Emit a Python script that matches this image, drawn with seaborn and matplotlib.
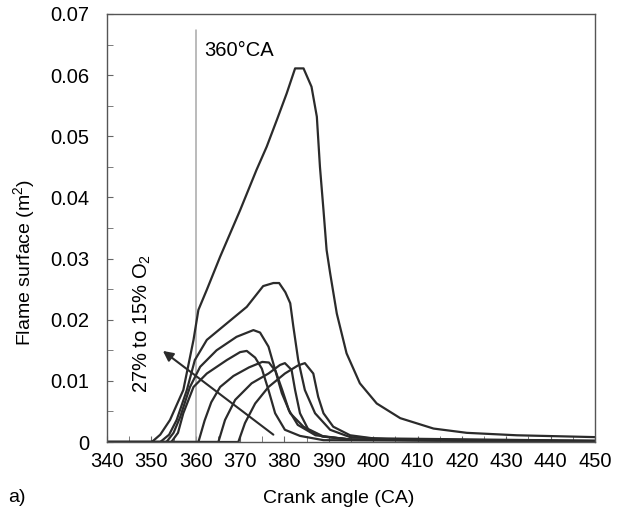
import numpy as np
import pandas as pd
import matplotlib
matplotlib.use("Agg")
import matplotlib.pyplot as plt
from matplotlib.ticker import MultipleLocator
import seaborn as sns

# crank angle (deg) / flame surface (m2), one curve per O2 level
ca_27 = [340.0, 350.1, 352.0, 354.2, 357.2, 359.5, 360.6, 362.5, 365.5, 370.0, 373.7, 376.0,
         378.3, 380.5, 382.4, 384.3, 386.1, 387.3, 388.0, 388.8, 389.5, 390.3, 391.8, 394.0,
         397.0, 400.8, 406.1, 413.6, 421.1, 432.4, 450.0]
fs_27 = [0.0, 0.0, 0.0012, 0.0036, 0.0085, 0.0167, 0.0216, 0.0249, 0.0303, 0.0379, 0.0445, 0.0483,
         0.0527, 0.0570, 0.0611, 0.0611, 0.0581, 0.0532, 0.0450, 0.0379, 0.0314, 0.0276, 0.0210, 0.0145,
         0.0096, 0.0063, 0.0039, 0.0022, 0.0015, 0.0011, 0.0008]

ca_b = [340.0, 352.0, 354.0, 355.7, 358.0, 359.8, 362.5, 367.0, 371.5, 375.2, 377.5, 378.8,
        380.2, 381.3, 382.0, 383.1, 384.6, 386.9, 390.3, 394.8, 405.0, 450.0]
fs_b = [0.0, 0.0, 0.0012, 0.0036, 0.0085, 0.0134, 0.0167, 0.0194, 0.0221, 0.0255, 0.0260, 0.0260,
        0.0245, 0.0227, 0.0189, 0.0134, 0.0085, 0.0047, 0.0020, 0.0008, 0.0004, 0.0002]

ca_c = [340.0, 353.4, 355.0, 356.5, 358.7, 361.0, 364.7, 369.2, 373.0, 374.5, 376.4, 377.9,
        379.4, 381.3, 384.3, 388.8, 395.0, 450.0]
fs_c = [0.0, 0.0, 0.0015, 0.0041, 0.0090, 0.0123, 0.0150, 0.0172, 0.0183, 0.0179, 0.0156, 0.0118,
        0.0080, 0.0047, 0.0025, 0.0009, 0.0004, 0.0001]

ca_d = [340.0, 354.5, 356.0, 357.2, 359.5, 362.5, 367.0, 370.0, 371.5, 373.4, 374.9, 376.4,
        377.9, 380.1, 383.5, 388.8, 450.0]
fs_d = [0.0, 0.0, 0.0015, 0.0047, 0.0090, 0.0112, 0.0134, 0.0147, 0.0149, 0.0138, 0.0120, 0.0085,
        0.0047, 0.0020, 0.0010, 0.0003, 0.0001]

ca_e = [340.0, 360.6, 362.0, 363.5, 365.5, 368.5, 372.0, 375.0, 376.5, 378.0, 379.5, 381.0,
        383.0, 387.0, 395.0, 450.0]
fs_e = [0.0, 0.0, 0.0035, 0.0065, 0.0090, 0.0108, 0.0122, 0.0131, 0.0130, 0.0116, 0.0085, 0.0052,
        0.0028, 0.0011, 0.0004, 0.0001]

ca_f = [340.0, 365.1, 366.6, 368.9, 372.6, 376.4, 379.0, 380.1, 381.6, 382.4, 383.5, 385.4,
        388.5, 395.0, 450.0]
fs_f = [0.0, 0.0, 0.0036, 0.0069, 0.0096, 0.0112, 0.0126, 0.0129, 0.0118, 0.0085, 0.0047, 0.0020,
        0.0009, 0.0004, 0.0001]

ca_15 = [340.0, 369.6, 371.1, 373.4, 376.4, 380.1, 383.0, 384.6, 386.5, 387.6, 388.8, 391.0,
         394.8, 400.0, 450.0]
fs_15 = [0.0, 0.0, 0.0031, 0.0063, 0.0090, 0.0112, 0.0125, 0.0129, 0.0112, 0.0074, 0.0047, 0.0025,
         0.0011, 0.0006, 0.0002]

curves = {"27%": (ca_27, fs_27), "b": (ca_b, fs_b), "c": (ca_c, fs_c), "d": (ca_d, fs_d),
          "e": (ca_e, fs_e), "f": (ca_f, fs_f), "15%": (ca_15, fs_15)}

frames = [pd.DataFrame({"ca": ca, "fs": fs, "case": name}) for name, (ca, fs) in curves.items()]
df = pd.concat(frames, ignore_index=True)

sns.set_style("ticks")
plt.rcParams["font.family"] = ["Liberation Sans", "DejaVu Sans"]
plt.rcParams["mathtext.fontset"] = "custom"
plt.rcParams["mathtext.rm"] = "Liberation Sans"
plt.rcParams["mathtext.it"] = "Liberation Sans"
plt.rcParams["text.color"] = "black"
plt.rcParams["axes.labelcolor"] = "black"

fs_txt = 14.5

fig = plt.figure(figsize=(6.25, 5.12), dpi=100)
ax = fig.add_axes([0.1712, 0.1367, 0.7808, 0.836])

sns.lineplot(data=df, x="ca", y="fs", units="case", estimator=None, sort=False,
             color="#2b2b2b", linewidth=1.6, ax=ax, legend=False)
for ln in ax.lines:
    ln.set_solid_joinstyle("round")

ax.plot([360, 360], [0, 0.0674], color="#a8a8a8", linewidth=1.1, zorder=1)
ax.text(362.0, 0.0640, "360°CA", fontsize=fs_txt, va="center", ha="left")

ax.annotate("", xy=(352.6, 0.0149), xytext=(377.5, 0.0012),
            arrowprops=dict(arrowstyle="-|>", color="#2b2b2b", lw=1.5,
                            mutation_scale=15, shrinkA=0, shrinkB=0))
ax.text(348.0, 0.0194, "27% to 15% O$_2$", rotation=90, fontsize=fs_txt,
        va="center", ha="center")

ax.set_xlim(340, 450)
ax.set_ylim(0, 0.07)
ax.set_xticks(np.arange(340, 451, 10))
ax.set_yticks(np.arange(0, 0.0701, 0.01))
ax.set_yticklabels(["0", "0.01", "0.02", "0.03", "0.04", "0.05", "0.06", "0.07"])
ax.xaxis.set_minor_locator(MultipleLocator(5))
ax.yaxis.set_minor_locator(MultipleLocator(0.005))
ax.tick_params(which="both", direction="in", labelsize=fs_txt, color="#666666",
               labelcolor="black", length=4)
ax.tick_params(axis="x", which="major", pad=7)
ax.tick_params(axis="y", which="major", pad=13)
for side in ax.spines.values():
    side.set_color("#555555")
    side.set_linewidth(1.0)

ax.set_xlabel("Crank angle (CA)", fontsize=14)
ax.set_ylabel("Flame surface (m$^2$)", fontsize=14)
ax.xaxis.set_label_coords(0.474, -0.113)
ax.yaxis.set_label_coords(-0.143, 0.42)
fig.text(0.013, 0.02, "a)", fontsize=14)

fig.savefig("out.png", dpi=100)
